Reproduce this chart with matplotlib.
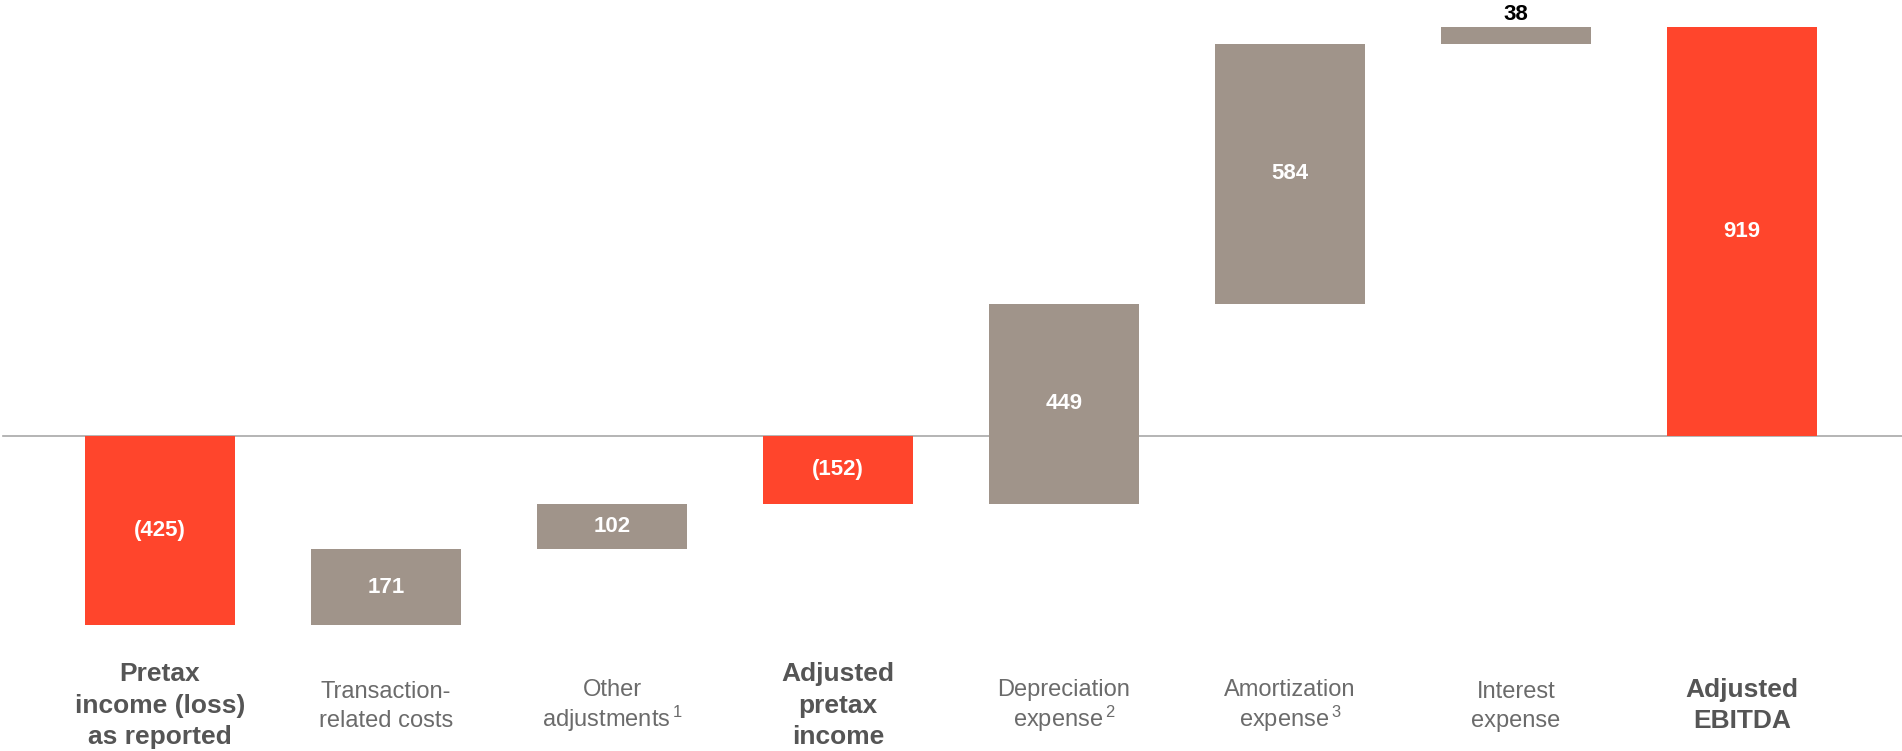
import matplotlib.pyplot as plt

plt.rcParams["mathtext.fontset"] = "custom"
plt.rcParams["mathtext.rm"] = "Liberation Sans"
plt.rcParams["mathtext.default"] = "rm"

categories = ["Pretax\nincome (loss)\nas reported", "Transaction-\nrelated costs",
              "Other\nadjustments$^{\\,1}$", "Adjusted\npretax\nincome",
              "Depreciation\nexpense$^{\\,2}$", "Amortization\nexpense$^{\\,3}$",
              "Interest\nexpense", "Adjusted\nEBITDA"]
values = [-425, 171, 102, -152, 449, 584, 38, 919]
is_total = [True, False, False, True, False, False, False, True]

red = "#FF452C"
gray = "#A0948A"

# waterfall bottoms
bottoms = []
heights = []
running = 0
for v, t in zip(values, is_total):
    if t:
        bottoms.append(0)
        running = v
    else:
        bottoms.append(running)
        running += v
    heights.append(v)

fig = plt.figure(figsize=(19.02, 7.51), dpi=100)
ax = fig.add_axes([0, 0, 1, 1])
ax.set_xlim(-0.708, 7.708)
ax.set_ylim(-708, 980)
ax.axis("off")

ax.axhline(0, xmin=3 / 1902, xmax=1, color="#A8A8A8", lw=1.2, zorder=1)

x = list(range(len(values)))
colors = [red if t else gray for t in is_total]
ax.bar(x, heights, bottom=bottoms, width=0.66, color=colors, zorder=2)

for i, (v, b) in enumerate(zip(values, bottoms)):
    txt = "(%d)" % abs(v) if v < 0 else str(v)
    if abs(v) < 60:
        ax.text(i, b + v + 4, txt, ha="center", va="bottom", fontsize=16,
                fontweight="bold", color="black", family="Liberation Sans")
    else:
        ax.text(i, b + v / 2, txt, ha="center", va="center", fontsize=16,
                fontweight="bold", color="white", family="Liberation Sans")

for i, (c, t) in enumerate(zip(categories, is_total)):
    if t:
        ax.text(i, -606, c, ha="center", va="center", fontsize=19,
                fontweight="bold", color="#555555", family="Liberation Sans",
                linespacing=1.4)
    else:
        ls = 1.12 if "$" in c else 1.45
        ax.text(i, -608, c, ha="center", va="center", fontsize=17,
                color="#6B6B6B", family="Liberation Sans", linespacing=ls)

fig.savefig("out.png", dpi=100)
